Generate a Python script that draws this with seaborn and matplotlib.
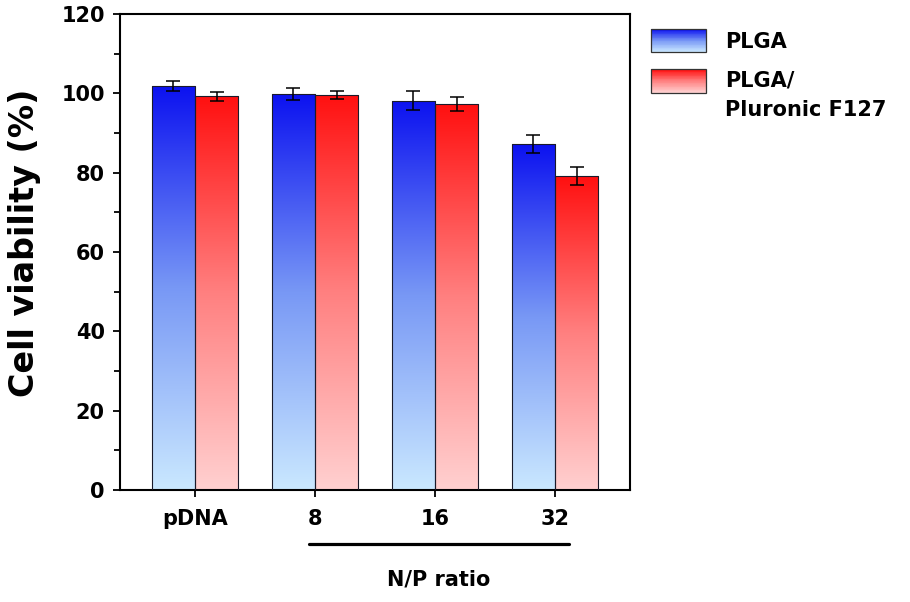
import numpy as np
import pandas as pd
import matplotlib
matplotlib.use("Agg")
import matplotlib.pyplot as plt
import seaborn as sns
from matplotlib.colors import LinearSegmentedColormap
from matplotlib.legend_handler import HandlerBase
from matplotlib.patches import Rectangle

sns.set_style("ticks")
plt.rcParams['font.family'] = ['DejaVu Sans']
plt.rcParams['font.weight'] = 'bold'
for k in ['text.color', 'axes.labelcolor', 'xtick.color', 'ytick.color']:
    plt.rcParams[k] = 'black'

# data
categories = ["pDNA", "8", "16", "32"]
groups = ["PLGA", "PLGA/\nPluronic F127"]
plga_mean = [101.8, 99.8, 98.1, 87.2]
plga_err = [1.2, 1.5, 2.4, 2.3]
f127_mean = [99.3, 99.6, 97.3, 79.1]
f127_err = [1.1, 1.1, 1.8, 2.3]

df = pd.DataFrame({
    "cat": categories * 2,
    "group": [groups[0]] * 4 + [groups[1]] * 4,
    "value": plga_mean + f127_mean,
    "err": plga_err + f127_err,
})

blue_cmap = LinearSegmentedColormap.from_list("b", ["#cae8ff", "#7898f5", "#0c12f0"])
red_cmap = LinearSegmentedColormap.from_list("r", ["#ffd0d0", "#ff8080", "#ff1010"])
cmaps = {groups[0]: blue_cmap, groups[1]: red_cmap}

fig = plt.figure(figsize=(9.1, 6.02), dpi=100)
ax = fig.add_axes([0.1319, 0.186, 0.5604, 0.7907])

sns.barplot(data=df, x="cat", y="value", hue="group", order=categories,
            hue_order=groups, errorbar=None, width=0.72, ax=ax,
            edgecolor="#1a1a2a", linewidth=0.8, legend=False)

grad = np.linspace(0, 1, 256).reshape(-1, 1)
bars = [p for p in ax.patches if isinstance(p, Rectangle)][:len(df)]
for i, p in enumerate(bars):
    g = groups[i // len(categories)]
    row = df[(df.group == g)].iloc[i % len(categories)]
    x0, w, h = p.get_x(), p.get_width(), p.get_height()
    p.set_facecolor("none")
    p.set_zorder(3)
    im = ax.imshow(grad, cmap=cmaps[g], aspect="auto", origin="lower",
                   extent=[x0, x0 + w, 0, h], zorder=2)
    im.set_clip_path(p)
    ax.errorbar(x0 + w / 2, row["value"], yerr=row["err"], fmt="none",
                ecolor="black", elinewidth=1.1, capsize=5, capthick=1.1, zorder=4)

ax.set_xlim(-0.625, 3.625)
ax.set_ylim(0, 120)
ax.set_yticks(range(0, 121, 20))
ax.set_yticks(range(10, 120, 20), minor=True)
ax.set_xticks(range(len(categories)))
ax.set_xticklabels(categories)
ax.tick_params(axis="both", direction="out", width=1.3, length=5, color="black")
ax.tick_params(axis="y", labelsize=15, pad=6)
ax.tick_params(axis="y", which="minor", direction="out", width=1.3, length=4)
ax.tick_params(axis="x", labelsize=15, pad=9)
for lab in ax.get_xticklabels() + ax.get_yticklabels():
    lab.set_fontweight("bold")
ax.set_xlabel("")
ax.set_ylabel("Cell viability (%)", fontsize=24, fontweight="bold")
ax.yaxis.set_label_coords(-0.155, 0.519)
for s in ax.spines.values():
    s.set_visible(True)
    s.set_linewidth(1.5)
    s.set_color("black")

# bracket under the N/P ratio groups
ax.plot([0.95, 3.12], [-13.6, -13.6], color="black", lw=2.3, clip_on=False)
ax.text(2.03, -22.5, "N/P ratio", ha="center", va="center",
        fontsize=15, fontweight="bold", clip_on=False)


class GradientHandler(HandlerBase):
    def __init__(self, cmap, yshift=0.0):
        super().__init__()
        self.cmap = cmap
        self.yshift = yshift

    def create_artists(self, legend, orig_handle, xdescent, ydescent,
                       width, height, fontsize, trans):
        arts = []
        n = 30
        y0 = -ydescent + self.yshift
        for k in range(n):
            r = Rectangle((-xdescent, y0 + height * k / n), width, height / n + 0.2,
                          facecolor=self.cmap(k / (n - 1)), edgecolor="none",
                          transform=trans)
            arts.append(r)
        arts.append(Rectangle((-xdescent, y0), width, height,
                              facecolor="none", edgecolor="#333333", lw=0.9,
                              transform=trans))
        return arts


h1 = Rectangle((0, 0), 1, 1)
h2 = Rectangle((0, 0), 1, 1)
leg = fig.legend([h1, h2], groups, loc="upper left", bbox_to_anchor=(0.695, 0.983),
                 frameon=False, prop={"size": 15, "weight": "bold"},
                 handler_map={h1: GradientHandler(blue_cmap),
                              h2: GradientHandler(red_cmap, yshift=11)},
                 handlelength=2.65, handleheight=1.35, handletextpad=0.9,
                 labelspacing=0.85)
for t in leg.get_texts():
    t.set_linespacing(1.65)

fig.savefig("out.png", dpi=100)
